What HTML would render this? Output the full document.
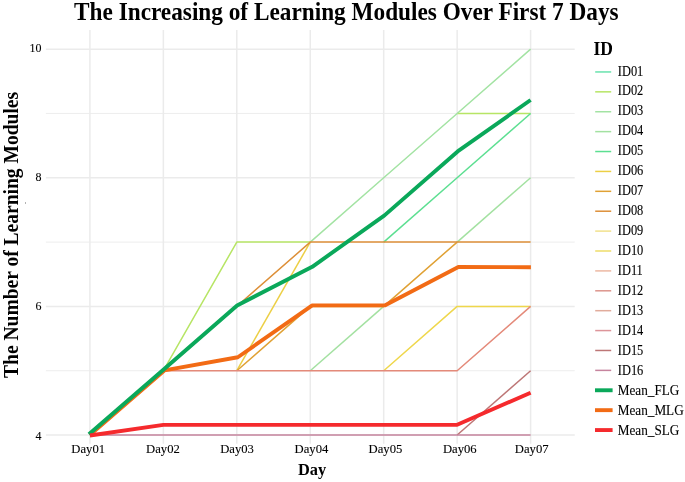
<!DOCTYPE html>
<html><head><meta charset="utf-8"><style>
html,body{margin:0;padding:0;background:#fff;}
body{width:685px;height:482px;overflow:hidden;}
svg{display:block;font-family:"Liberation Serif",serif;will-change:transform;}
.r{fill:#000;stroke:#000;stroke-width:0.1px;}
</style></head><body>
<svg width="685" height="482" viewBox="0 0 685 482">
<rect width="685" height="482" fill="#fff"/>
<g fill="none">
<line x1="45.9" x2="574.7" y1="370.73" y2="370.73" stroke="#EBEBEB" stroke-width="0.9"/>
<line x1="45.9" x2="574.7" y1="242.09" y2="242.09" stroke="#EBEBEB" stroke-width="0.9"/>
<line x1="45.9" x2="574.7" y1="113.45" y2="113.45" stroke="#EBEBEB" stroke-width="0.9"/>
<line x1="45.9" x2="574.7" y1="435.05" y2="435.05" stroke="#EBEBEB" stroke-width="1.5"/>
<line x1="45.9" x2="574.7" y1="306.41" y2="306.41" stroke="#EBEBEB" stroke-width="1.5"/>
<line x1="45.9" x2="574.7" y1="177.77" y2="177.77" stroke="#EBEBEB" stroke-width="1.5"/>
<line x1="45.9" x2="574.7" y1="49.13" y2="49.13" stroke="#EBEBEB" stroke-width="1.5"/>
<line x1="89.90" x2="89.90" y1="30.1" y2="443.7" stroke="#EBEBEB" stroke-width="1.5"/>
<line x1="163.35" x2="163.35" y1="30.1" y2="443.7" stroke="#EBEBEB" stroke-width="1.5"/>
<line x1="236.80" x2="236.80" y1="30.1" y2="443.7" stroke="#EBEBEB" stroke-width="1.5"/>
<line x1="310.25" x2="310.25" y1="30.1" y2="443.7" stroke="#EBEBEB" stroke-width="1.5"/>
<line x1="383.70" x2="383.70" y1="30.1" y2="443.7" stroke="#EBEBEB" stroke-width="1.5"/>
<line x1="457.15" x2="457.15" y1="30.1" y2="443.7" stroke="#EBEBEB" stroke-width="1.5"/>
<line x1="530.60" x2="530.60" y1="30.1" y2="443.7" stroke="#EBEBEB" stroke-width="1.5"/>
<polyline points="163.35,370.73 236.80,242.09 310.25,242.09" stroke="#B7E565" stroke-width="1.5" stroke-linejoin="round"/>
<polyline points="457.15,113.45 530.60,113.45" stroke="#B7E565" stroke-width="1.5" stroke-linejoin="round"/>
<polyline points="310.25,242.09 383.70,177.77 457.15,113.45 530.60,49.13" stroke="#A3E3A3" stroke-width="1.5" stroke-linejoin="round"/>
<polyline points="310.25,370.73 383.70,306.41" stroke="#A3E1A1" stroke-width="1.5" stroke-linejoin="round"/>
<polyline points="457.15,242.09 530.60,177.77" stroke="#A3E1A1" stroke-width="1.5" stroke-linejoin="round"/>
<polyline points="383.70,242.09 457.15,177.77 530.60,113.45" stroke="#5CDF91" stroke-width="1.5" stroke-linejoin="round"/>
<polyline points="236.80,370.73 310.25,242.09" stroke="#ECCF45" stroke-width="1.5" stroke-linejoin="round"/>
<polyline points="236.80,370.73 310.25,306.41 383.70,306.41 457.15,242.09" stroke="#E0A134" stroke-width="1.5" stroke-linejoin="round"/>
<polyline points="163.35,370.73 236.80,306.41 310.25,242.09 383.70,242.09 457.15,242.09 530.60,242.09" stroke="#DD8F38" stroke-width="1.5" stroke-linejoin="round"/>
<polyline points="383.70,370.73 457.15,306.41 530.60,306.41" stroke="#EFD74C" stroke-width="1.5" stroke-linejoin="round"/>
<polyline points="89.90,435.05 163.35,370.73 236.80,370.73 310.25,370.73 383.70,370.73 457.15,370.73 530.60,306.41" stroke="#E48A7A" stroke-width="1.5" stroke-linejoin="round"/>
<polyline points="457.15,435.05 530.60,370.73" stroke="#BD7676" stroke-width="1.5" stroke-linejoin="round"/>
<polyline points="89.90,435.05 163.35,435.05 236.80,435.05 310.25,435.05 383.70,435.05 457.15,435.05 530.60,435.05" stroke="#C6849E" stroke-width="1.5" stroke-linejoin="round"/>
<polyline points="90.20,434.85 164.35,370.43 237.80,357.27 312.25,305.41 384.70,305.41 458.35,266.92 530.90,267.22" stroke="#F26B15" stroke-width="3.9" stroke-linejoin="round"/>
<polyline points="88.90,434.25 163.35,369.73 237.10,305.41 312.25,266.82 384.50,215.36 457.65,151.44 530.60,99.99" stroke="#0AA85A" stroke-width="3.9" stroke-linejoin="round"/>
<polyline points="89.90,435.55 163.35,424.83 236.80,424.83 310.25,424.83 383.70,424.83 457.15,424.83 530.60,392.67" stroke="#F52A2D" stroke-width="3.9" stroke-linejoin="round"/>
</g>
<text transform="translate(41.4,439.85) scale(0.9,1)" text-anchor="end" font-size="13.3" class="r">4</text>
<text transform="translate(41.4,310.25) scale(0.9,1)" text-anchor="end" font-size="13.3" class="r">6</text>
<text transform="translate(41.4,180.90) scale(0.9,1)" text-anchor="end" font-size="13.3" class="r">8</text>
<text transform="translate(41.4,51.85) scale(0.9,1)" text-anchor="end" font-size="13.3" class="r">10</text>
<text transform="translate(88.20,453.4) scale(0.96,1)" text-anchor="middle" font-size="13.2" class="r">Day01</text>
<text transform="translate(162.95,453.4) scale(0.96,1)" text-anchor="middle" font-size="13.2" class="r">Day02</text>
<text transform="translate(237.05,453.4) scale(0.96,1)" text-anchor="middle" font-size="13.2" class="r">Day03</text>
<text transform="translate(311.45,453.4) scale(0.96,1)" text-anchor="middle" font-size="13.2" class="r">Day04</text>
<text transform="translate(385.45,453.4) scale(0.96,1)" text-anchor="middle" font-size="13.2" class="r">Day05</text>
<text transform="translate(459.75,453.4) scale(0.96,1)" text-anchor="middle" font-size="13.2" class="r">Day06</text>
<text transform="translate(531.70,453.4) scale(0.96,1)" text-anchor="middle" font-size="13.2" class="r">Day07</text>
<text x="74.05" y="19.7" font-size="25" font-weight="bold" fill="#000" textLength="544.6" lengthAdjust="spacingAndGlyphs">The Increasing of Learning Modules Over First 7 Days</text>
<text transform="translate(18.0,378.0) rotate(-90)" font-size="21.2" font-weight="bold" fill="#000" textLength="286.1" lengthAdjust="spacingAndGlyphs">The Number of Learning Modules</text>
<rect x="25" y="202" width="1" height="2" fill="#b4b4b4"/>
<text x="312.0" y="475.0" text-anchor="middle" font-size="16.4" font-weight="bold" fill="#000">Day</text>
<text transform="translate(593.4,54.8) scale(0.985,1)" font-size="17.8" font-weight="bold" fill="#000">ID</text>
<line x1="595.2" x2="611.2" y1="71.95" y2="71.95" stroke="#69E3AE" stroke-width="1.5"/>
<text transform="translate(617.8,75.50) scale(0.89,1)" font-size="13.95" class="r">ID01</text>
<line x1="595.2" x2="611.2" y1="91.84" y2="91.84" stroke="#B7E565" stroke-width="1.5"/>
<text transform="translate(617.8,95.45) scale(0.89,1)" font-size="13.95" class="r">ID02</text>
<line x1="595.2" x2="611.2" y1="111.74" y2="111.74" stroke="#A3E3A3" stroke-width="1.5"/>
<text transform="translate(617.8,115.40) scale(0.89,1)" font-size="13.95" class="r">ID03</text>
<line x1="595.2" x2="611.2" y1="131.63" y2="131.63" stroke="#A3E1A1" stroke-width="1.5"/>
<text transform="translate(617.8,135.35) scale(0.89,1)" font-size="13.95" class="r">ID04</text>
<line x1="595.2" x2="611.2" y1="151.53" y2="151.53" stroke="#5CDF91" stroke-width="1.5"/>
<text transform="translate(617.8,155.30) scale(0.89,1)" font-size="13.95" class="r">ID05</text>
<line x1="595.2" x2="611.2" y1="171.43" y2="171.43" stroke="#ECCF45" stroke-width="1.5"/>
<text transform="translate(617.8,175.25) scale(0.89,1)" font-size="13.95" class="r">ID06</text>
<line x1="595.2" x2="611.2" y1="191.32" y2="191.32" stroke="#E0A134" stroke-width="1.5"/>
<text transform="translate(617.8,195.20) scale(0.89,1)" font-size="13.95" class="r">ID07</text>
<line x1="595.2" x2="611.2" y1="211.21" y2="211.21" stroke="#DD8F38" stroke-width="1.5"/>
<text transform="translate(617.8,215.15) scale(0.89,1)" font-size="13.95" class="r">ID08</text>
<line x1="595.2" x2="611.2" y1="231.11" y2="231.11" stroke="#F1E18D" stroke-width="1.5"/>
<text transform="translate(617.8,235.10) scale(0.89,1)" font-size="13.95" class="r">ID09</text>
<line x1="595.2" x2="611.2" y1="251.00" y2="251.00" stroke="#EEDD69" stroke-width="1.5"/>
<text transform="translate(617.8,255.05) scale(0.89,1)" font-size="13.95" class="r">ID10</text>
<line x1="595.2" x2="611.2" y1="270.90" y2="270.90" stroke="#ECB9A3" stroke-width="1.5"/>
<text transform="translate(617.8,275.00) scale(0.89,1)" font-size="13.95" class="r">ID11</text>
<line x1="595.2" x2="611.2" y1="290.80" y2="290.80" stroke="#DD958D" stroke-width="1.5"/>
<text transform="translate(617.8,294.95) scale(0.89,1)" font-size="13.95" class="r">ID12</text>
<line x1="595.2" x2="611.2" y1="310.69" y2="310.69" stroke="#E1AC9C" stroke-width="1.5"/>
<text transform="translate(617.8,314.90) scale(0.89,1)" font-size="13.95" class="r">ID13</text>
<line x1="595.2" x2="611.2" y1="330.58" y2="330.58" stroke="#DD959A" stroke-width="1.5"/>
<text transform="translate(617.8,334.85) scale(0.89,1)" font-size="13.95" class="r">ID14</text>
<line x1="595.2" x2="611.2" y1="350.48" y2="350.48" stroke="#BD7676" stroke-width="1.5"/>
<text transform="translate(617.8,354.80) scale(0.89,1)" font-size="13.95" class="r">ID15</text>
<line x1="595.2" x2="611.2" y1="370.38" y2="370.38" stroke="#C6849E" stroke-width="1.5"/>
<text transform="translate(617.8,374.75) scale(0.89,1)" font-size="13.95" class="r">ID16</text>
<line x1="595.0" x2="612.6" y1="390.27" y2="390.27" stroke="#0AA85A" stroke-width="3.9"/>
<text transform="translate(617.8,394.70) scale(0.945,1)" font-size="13.95" class="r">Mean_FLG</text>
<line x1="595.0" x2="612.6" y1="410.16" y2="410.16" stroke="#F26B15" stroke-width="3.9"/>
<text transform="translate(617.8,414.65) scale(0.945,1)" font-size="13.95" class="r">Mean_MLG</text>
<line x1="595.0" x2="612.6" y1="430.06" y2="430.06" stroke="#F52A2D" stroke-width="3.9"/>
<text transform="translate(617.8,434.60) scale(0.945,1)" font-size="13.95" class="r">Mean_SLG</text>
</svg>
</body></html>
